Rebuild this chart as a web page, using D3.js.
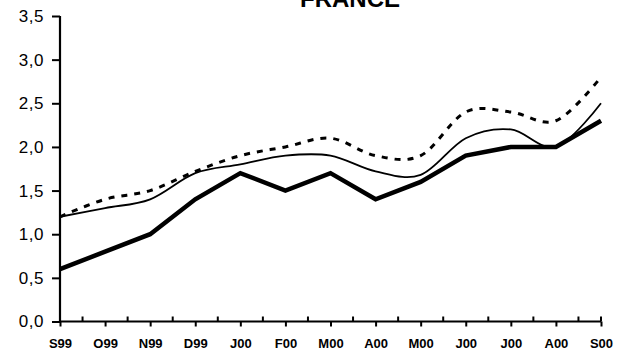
<!DOCTYPE html>
<html>
<head>
<meta charset="utf-8">
<script src="https://cdn.jsdelivr.net/npm/d3@7"></script>
<style>
  html, body { margin: 0; padding: 0; background: #fff; }
  svg { display: block; }
  text { font-family: Arial, "Liberation Sans", sans-serif; fill: #000; }
</style>
</head>
<body>
<svg id="chart" width="624" height="356"></svg>
<script>
// Monthly categories, September 1999 to September 2000
const months = ["S99", "O99", "N99", "D99", "J00", "F00", "M00", "A00", "M00", "J00", "J00", "A00", "S00"];

// Three series (percent)
const seriesBold   = [0.6, 0.8, 1.0, 1.4, 1.7, 1.5, 1.7, 1.4, 1.6, 1.9, 2.0, 2.0, 2.3];
const seriesThin   = [1.2, 1.3, 1.4, 1.7, 1.8, 1.9, 1.9, 1.72, 1.68, 2.1, 2.2, 2.0, 2.5];
const seriesDashed = [1.2, 1.4, 1.5, 1.72, 1.9, 2.0, 2.1, 1.9, 1.9, 2.4, 2.4, 2.3, 2.8];

const yTicks = [0, 0.5, 1.0, 1.5, 2.0, 2.5, 3.0, 3.5];

const svg = d3.select("#chart");

const x = d3.scalePoint().domain(d3.range(months.length)).range([60, 601]);
const y = d3.scaleLinear().domain([0, 3.5]).range([321.5, 16]);
const fmt = v => d3.format(".1f")(v).replace(".", ",");

// Title (runs off the top edge of the page)
svg.append("text")
  .attr("x", 350).attr("y", 7)
  .attr("text-anchor", "middle")
  .style("font-size", "24px").style("font-weight", "bold")
  .text("FRANCE");

// Y axis
const yAxis = svg.append("g").attr("transform", "translate(60,0)")
  .call(d3.axisLeft(y).tickValues(yTicks).tickFormat(fmt).tickSize(8).tickPadding(8));
yAxis.select(".domain").attr("stroke", "#000").attr("stroke-width", 2.2).attr("d", `M0,${y(3.5)}V${y(0)}`);
yAxis.selectAll(".tick line").attr("stroke", "#000").attr("stroke-width", 2);
yAxis.selectAll(".tick text").style("font-size", "17px").style("letter-spacing", "0.5px");

// X axis: category ticks below, midpoint ticks above
const xAxis = svg.append("g").attr("transform", `translate(0,${y(0)})`)
  .call(d3.axisBottom(x).tickFormat(i => months[i]).tickSize(5).tickPadding(12));
xAxis.select(".domain").attr("stroke", "#000").attr("stroke-width", 2.2).attr("d", `M${x(0)},0H${x(months.length - 1)}`);
xAxis.selectAll(".tick line").attr("stroke", "#000").attr("stroke-width", 2);
xAxis.selectAll(".tick text").style("font-size", "13px").style("font-weight", "bold");

const step = x.step();
xAxis.selectAll(".midtick")
  .data(d3.range(months.length - 1))
  .join("line")
  .attr("class", "midtick")
  .attr("x1", i => x(i) + step / 2).attr("x2", i => x(i) + step / 2)
  .attr("y1", 0).attr("y2", -5)
  .attr("stroke", "#000").attr("stroke-width", 2);
xAxis.append("line")
  .attr("x1", x(months.length - 1)).attr("x2", x(months.length - 1))
  .attr("y1", -5).attr("y2", 0)
  .attr("stroke", "#000").attr("stroke-width", 2);

// Lines
const straight = d3.line().x((d, i) => x(i)).y(d => y(d));
const smooth = d3.line().x((d, i) => x(i)).y(d => y(d)).curve(d3.curveCatmullRom.alpha(0));

svg.append("path").datum(seriesDashed)
  .attr("d", smooth).attr("fill", "none")
  .attr("stroke", "#000").attr("stroke-width", 3).attr("stroke-dasharray", "6,7");

svg.append("path").datum(seriesThin)
  .attr("d", smooth).attr("fill", "none")
  .attr("stroke", "#000").attr("stroke-width", 1.8);

svg.append("path").datum(seriesBold)
  .attr("d", straight).attr("fill", "none")
  .attr("stroke", "#000").attr("stroke-width", 4.5).attr("stroke-linejoin", "miter");
</script>
</body>
</html>
